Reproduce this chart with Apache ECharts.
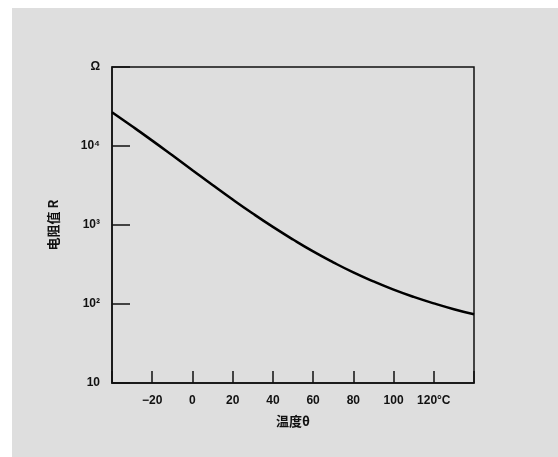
<!DOCTYPE html>
<html>
<head>
<meta charset="utf-8">
<script src="https://cdn.jsdelivr.net/npm/echarts@6/dist/echarts.min.js"></script>
<style>html,body{margin:0;padding:0;background:#fff;}#c{width:558px;height:457px;}</style>
</head>
<body>
<div id="c"></div>
<script>
const temps = [-40,-30,-20,-10,0,10,20,30,40,50,60,70,80,90,100,110,120,130,140];
const resistance = [26800,17780,11700,7621,4943,3206,2099,1396,946,655,463,337,251,193,152,123,102,86,74];
const yTickLabels = {10:'10', 100:'10²', 1000:'10³', 10000:'10⁴', 100000:'Ω'};
const xTickLabels = {'-20':'−20','0':'0','20':'20','40':'40','60':'60','80':'80','100':'100','120':'120°C'};

const chart = echarts.init(document.getElementById('c'));
const lblFont = {color:'#111', fontFamily:'Liberation Sans, Arial, sans-serif', fontWeight:'bold', fontSize:12};
chart.setOption({
  backgroundColor:'#ffffff',
  animation:false,
  graphic:[{type:'rect', left:12, top:8, shape:{width:546, height:449}, style:{fill:'#dedede'}, z:-10}],
  grid:{left:112, top:67, width:362, height:316, show:true, borderColor:'#111', borderWidth:1.5, backgroundColor:'transparent'},
  xAxis:{
    type:'value', min:-40, max:140, interval:20,
    name:'温度θ', nameLocation:'middle', nameGap:32,
    nameTextStyle:{color:'#111', fontFamily:'Noto Sans CJK SC', fontWeight:'bold', fontSize:13},
    axisLine:{onZero:false, lineStyle:{color:'#111', width:1.5}},
    axisTick:{inside:true, length:12, lineStyle:{color:'#111', width:1.5}},
    axisLabel:Object.assign({margin:12, formatter:v => xTickLabels[String(v)] || '', showMinLabel:true, showMaxLabel:true}, lblFont),
    splitLine:{show:false}
  },
  yAxis:{
    type:'log', logBase:10, min:10, max:100000,
    name:'电阻值 R', nameLocation:'middle', nameGap:52, nameRotate:90,
    nameTextStyle:{color:'#111', fontFamily:'Noto Sans CJK SC', fontWeight:'bold', fontSize:13},
    axisLine:{onZero:false, lineStyle:{color:'#111', width:1.5}},
    axisTick:{inside:true, length:18, lineStyle:{color:'#111', width:1.5}},
    axisLabel:Object.assign({margin:12, formatter:v => yTickLabels[Math.round(v)] || ''}, lblFont),
    splitLine:{show:false},
    minorTick:{show:false}
  },
  series:[{
    type:'line', data:temps.map((t,i)=>[t,resistance[i]]),
    smooth:true, showSymbol:false,
    lineStyle:{color:'#000', width:2.5}
  }]
});
</script>
</body>
</html>
